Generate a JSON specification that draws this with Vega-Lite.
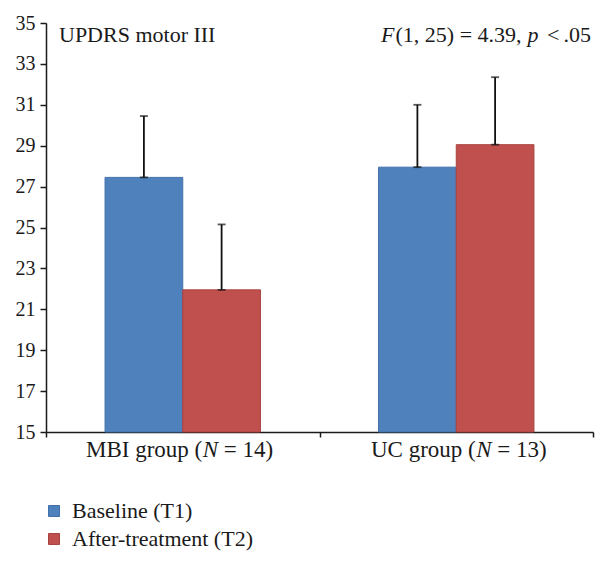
{
  "$schema": "https://vega.github.io/schema/vega-lite/v6.json",
  "width": 547,
  "height": 409,
  "autosize": "none",
  "padding": {"left": 46, "top": 23, "right": 15, "bottom": 131},
  "background": "white",
  "config": {
    "view": {"stroke": null},
    "font": "Liberation Serif",
    "text": {"font": "Liberation Serif", "fontSize": 22, "color": "#1a1a1a"}
  },
  "datasets": {
    "bars": [
      {"group": "MBI", "series": "Baseline (T1)", "mean": 27.45, "upper": 30.45},
      {"group": "MBI", "series": "After-treatment (T2)", "mean": 21.95, "upper": 25.15},
      {"group": "UC", "series": "Baseline (T1)", "mean": 27.95, "upper": 31.0},
      {"group": "UC", "series": "After-treatment (T2)", "mean": 29.05, "upper": 32.35}
    ],
    "labels": [
      {"group": "MBI", "pre": "MBI group (", "n": "N", "post": "= 14)"},
      {"group": "UC", "pre": "UC group (", "n": "N", "post": "= 13)"}
    ],
    "note": [{}]
  },
  "layer": [
    {
      "data": {"name": "bars"},
      "mark": {"type": "bar", "strokeWidth": 1},
      "encoding": {
        "x": {
          "field": "group", "type": "nominal",
          "scale": {"domain": ["MBI", "UC"], "paddingInner": 0, "paddingOuter": 0},
          "axis": {
            "title": null, "labels": false, "tickBand": "extent", "tickSize": 5,
            "tickColor": "#1a1a1a", "tickWidth": 1.5, "domainColor": "#1a1a1a", "domainWidth": 1.5
          }
        },
        "xOffset": {
          "field": "series", "type": "nominal",
          "scale": {"domain": ["Baseline (T1)", "After-treatment (T2)"], "paddingInner": 0, "paddingOuter": 0.76}
        },
        "y": {
          "field": "mean", "type": "quantitative",
          "scale": {"domain": [15, 35], "zero": false, "nice": false},
          "axis": {
            "title": null, "grid": false, "values": [15, 17, 19, 21, 23, 25, 27, 29, 31, 33, 35],
            "labelFontSize": 20, "labelColor": "#1a1a1a", "labelFont": "Liberation Serif", "labelPadding": 5,
            "tickSize": 6, "tickColor": "#1a1a1a", "tickWidth": 1.5,
            "domainColor": "#1a1a1a", "domainWidth": 1.5
          }
        },
        "y2": {"datum": 15},
        "color": {
          "field": "series", "type": "nominal",
          "scale": {"domain": ["Baseline (T1)", "After-treatment (T2)"], "range": ["#4F81BD", "#C0504D"]},
          "legend": {
            "title": null, "orient": "none", "legendX": -3, "legendY": 477, "padding": 0,
            "symbolType": "square", "symbolSize": 121, "symbolStrokeWidth": 1,
            "labelFontSize": 22, "labelFont": "Liberation Serif", "labelColor": "#1a1a1a",
            "labelOffset": 7, "rowPadding": 6, "labelLimit": 400
          }
        },
        "stroke": {
          "field": "series", "type": "nominal",
          "scale": {"domain": ["Baseline (T1)", "After-treatment (T2)"], "range": ["#4170A8", "#A8423F"]},
          "legend": null
        }
      }
    },
    {
      "data": {"name": "bars"},
      "mark": {"type": "rule", "color": "#111111", "strokeWidth": 1.8},
      "encoding": {
        "x": {"field": "group", "type": "nominal"},
        "xOffset": {"field": "series", "type": "nominal"},
        "y": {"field": "mean", "type": "quantitative"},
        "y2": {"field": "upper"}
      }
    },
    {
      "data": {"name": "bars"},
      "mark": {"type": "tick", "color": "#111111", "size": 8, "thickness": 1.8, "orient": "horizontal"},
      "encoding": {
        "x": {"field": "group", "type": "nominal"},
        "xOffset": {"field": "series", "type": "nominal"},
        "y": {"field": "upper", "type": "quantitative"}
      }
    },
    {
      "data": {"name": "bars"},
      "mark": {"type": "tick", "color": "#111111", "size": 8, "thickness": 1.8, "orient": "horizontal"},
      "encoding": {
        "x": {"field": "group", "type": "nominal"},
        "xOffset": {"field": "series", "type": "nominal"},
        "y": {"field": "mean", "type": "quantitative"}
      }
    },
    {
      "data": {"name": "labels"},
      "mark": {"type": "text", "align": "right", "baseline": "alphabetic", "fontSize": 23, "dx": 19.5, "dy": 25},
      "encoding": {
        "x": {"field": "group", "type": "nominal"},
        "y": {"datum": 15},
        "text": {"field": "pre"}
      }
    },
    {
      "data": {"name": "labels"},
      "mark": {"type": "text", "align": "left", "baseline": "alphabetic", "fontSize": 23, "fontStyle": "italic", "dx": 20, "dy": 25},
      "encoding": {
        "x": {"field": "group", "type": "nominal"},
        "y": {"datum": 15},
        "text": {"field": "n"}
      }
    },
    {
      "data": {"name": "labels"},
      "mark": {"type": "text", "align": "left", "baseline": "alphabetic", "fontSize": 23, "dx": 41, "dy": 25},
      "encoding": {
        "x": {"field": "group", "type": "nominal"},
        "y": {"datum": 15},
        "text": {"field": "post"}
      }
    },
    {
      "data": {"name": "note"},
      "mark": {"type": "text", "align": "left", "baseline": "alphabetic", "text": "UPDRS motor III", "dx": 13},
      "encoding": {"x": {"value": 0}, "y": {"datum": 34.05}}
    },
    {
      "data": {"name": "note"},
      "mark": {"type": "text", "align": "left", "baseline": "alphabetic", "text": "F", "fontStyle": "italic", "dx": -212},
      "encoding": {"x": {"value": "width"}, "y": {"datum": 34.05}}
    },
    {
      "data": {"name": "note"},
      "mark": {"type": "text", "align": "left", "baseline": "alphabetic", "text": "(1, 25) = 4.39,", "dx": -197.5},
      "encoding": {"x": {"value": "width"}, "y": {"datum": 34.05}}
    },
    {
      "data": {"name": "note"},
      "mark": {"type": "text", "align": "left", "baseline": "alphabetic", "text": "p", "fontStyle": "italic", "dx": -65.5},
      "encoding": {"x": {"value": "width"}, "y": {"datum": 34.05}}
    },
    {
      "data": {"name": "note"},
      "mark": {"type": "text", "align": "left", "baseline": "alphabetic", "text": "<", "dx": -46},
      "encoding": {"x": {"value": "width"}, "y": {"datum": 34.05}}
    },
    {
      "data": {"name": "note"},
      "mark": {"type": "text", "align": "left", "baseline": "alphabetic", "text": ".05", "dx": -29.5},
      "encoding": {"x": {"value": "width"}, "y": {"datum": 34.05}}
    }
  ]
}
